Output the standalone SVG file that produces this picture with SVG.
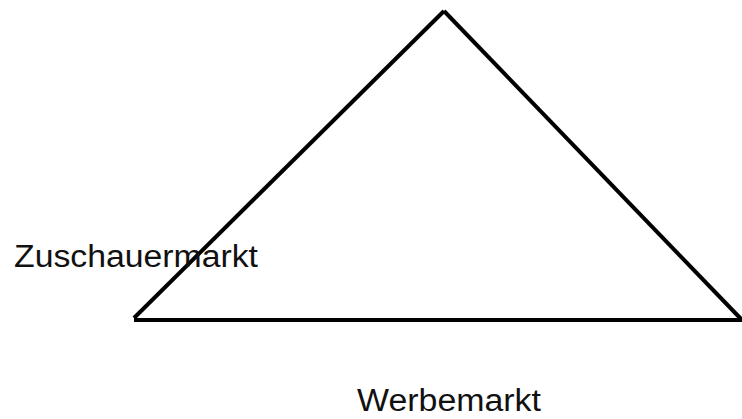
<svg xmlns="http://www.w3.org/2000/svg" width="742" height="419" viewBox="0 0 742 419">
<style>
.l{stroke:#000;stroke-width:4;fill:none}
.t{font-family:"Liberation Sans",Arial,sans-serif;font-size:31px;fill:#111}
</style>
<rect width="742" height="419" fill="#fff"/>
<g id="connectors">
<line class="l" x1="134" y1="318" x2="444" y2="11"/>
<line class="l" x1="444" y1="11" x2="742" y2="320"/>
<line class="l" x1="134" y1="320" x2="742" y2="320"/>
</g>
<g id="zuschauermarkt"><text class="t" x="14" y="267" textLength="244" lengthAdjust="spacingAndGlyphs">Zuschauermarkt</text></g>
<g id="werbemarkt"><text class="t" x="357" y="411" textLength="184" lengthAdjust="spacingAndGlyphs">Werbemarkt</text></g>
</svg>
